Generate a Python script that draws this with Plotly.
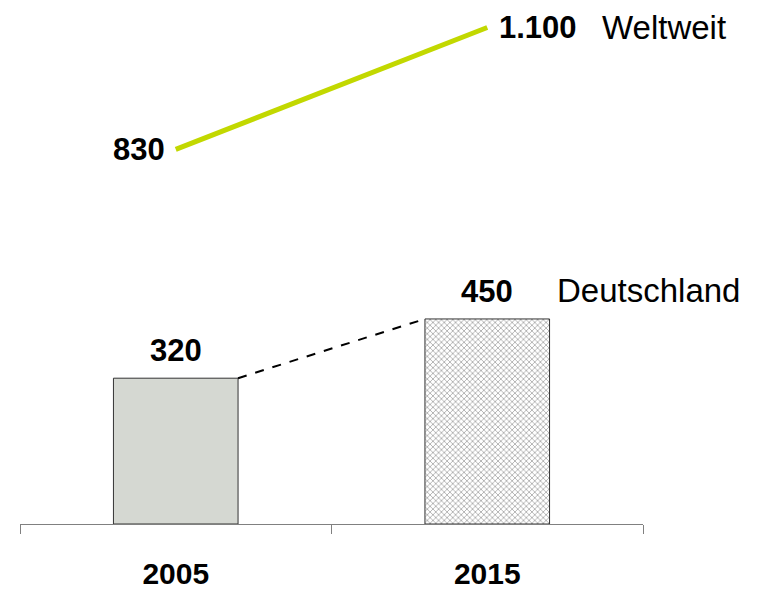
import plotly.graph_objects as go

years = ["2005", "2015"]
deutschland = [320, 450]
weltweit = [830, 1100]
bar_labels = ["320", "450"]
line_labels = ["830", "1.100"]

FONT = "Liberation Sans, Arial, sans-serif"
idx = list(range(len(years)))  # category positions on the x axis

fig = go.Figure()
fig.add_trace(go.Bar(
    x=years, y=deutschland,
    marker=dict(
        color=["#D5D8D2", "white"],
        line=dict(color="#333333", width=1),
        pattern=dict(shape=["", "x"], fgcolor="#a8a8a8", bgcolor="white", size=4, solidity=0.35),
    ),
    width=0.4,
    hoverinfo="skip",
))
fig.add_trace(go.Scatter(
    x=years, y=weltweit, yaxis="y2", mode="lines",
    line=dict(color="#C2D800", width=5),
    hoverinfo="skip",
))

# dashed connector between bar tops (category index +/- half bar width)
fig.add_shape(type="line", xref="x", yref="y",
              x0=idx[0] + 0.2, y0=deutschland[0], x1=idx[1] - 0.2, y1=deutschland[1],
              line=dict(color="black", width=2, dash="dash"))

bold = dict(family=FONT, size=31, color="black")
normal = dict(family=FONT, size=33, color="black")
for i, v in zip(idx, deutschland):
    fig.add_annotation(x=i, y=v, xref="x", yref="y", text="<b>%s</b>" % bar_labels[i],
                       showarrow=False, yanchor="bottom", yshift=8, font=bold)
fig.add_annotation(x=idx[0], y=weltweit[0], xref="x", yref="y2", text="<b>%s</b>" % line_labels[0],
                   showarrow=False, xanchor="right", xshift=-9, font=bold)
fig.add_annotation(x=idx[1], y=weltweit[1], xref="x", yref="y2", text="<b>%s</b>" % line_labels[1],
                   showarrow=False, xanchor="left", xshift=10, font=bold)
fig.add_annotation(x=idx[1], y=weltweit[1], xref="x", yref="y2", text="Weltweit",
                   showarrow=False, xanchor="left", xshift=113, font=normal)
fig.add_annotation(x=idx[1], y=deutschland[1], xref="x", yref="y", text="Deutschland",
                   showarrow=False, xanchor="left", xshift=68, yanchor="bottom", yshift=8, font=normal)

fig.update_layout(
    width=767, height=589,
    margin=dict(l=20, r=124, t=0, b=65),
    paper_bgcolor="white", plot_bgcolor="white",
    showlegend=False,
    bargap=0.6,
    xaxis=dict(type="category", categoryorder="array", categoryarray=years,
               range=[-0.5, 1.5], autorange=False, fixedrange=True,
               showline=True, linecolor="#808080", linewidth=1,
               ticks="outside", tickson="boundaries", ticklen=9, tickcolor="#808080",
               tickfont=dict(family=FONT, size=30, color="black", weight="bold"),
               ticklabelstandoff=23, showgrid=False, zeroline=False, automargin=False,
               tickangle=0),
    yaxis=dict(visible=False, range=[0, 1150], fixedrange=True),
    yaxis2=dict(visible=False, range=[0, 1161], overlaying="y", fixedrange=True),
)

fig.write_html("out.html", config={"displayModeBar": False},
               post_script="document.body.style.margin='0';document.body.style.overflow='hidden';")
